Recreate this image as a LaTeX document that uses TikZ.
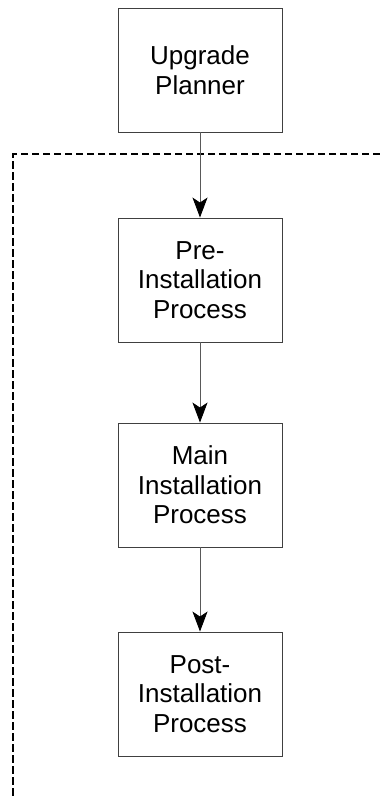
\documentclass[tikz,border=0pt]{standalone}
\usepackage{fontspec}
\setmainfont{Liberation Sans}
\usetikzlibrary{arrows.meta}
\begin{document}
\begin{tikzpicture}[x=1pt,y=-1pt,
    stage/.style={draw=black!75,line width=0.9pt,minimum width=164pt,minimum height=124pt,
      align=center,inner sep=0pt,font=\fontsize{26}{29.5}\selectfont},
    flow/.style={draw=black!65,line width=0.9pt,-{Stealth[length=20pt,width=15pt,inset=5pt,color=black]}},
    zone/.style={line width=2pt,dash pattern=on 7.5pt off 3.5pt}]
      \useasboundingbox (0,0) rectangle (380,803);
      \draw
        (200,70) node[stage] (planner){Upgrade\\Planner}
        (200,280) node[stage] (pre){Pre-\\Installation\\Process}
        (200,485) node[stage] (main){Main\\Installation\\Process}
        (200,694) node[stage] (post){Post-\\Installation\\Process};
      \coordinate (zr) at (380,154);
      \coordinate (zc) at (13,154);
      \coordinate (zb) at (13,798);
      \draw[zone] (zr) -- (zc) -- (zb);
      \begin{scope}[flow]
        \draw (planner) to (pre);
        \draw (pre) to (main);
        \draw (main) to (post);
      \end{scope}
    \end{tikzpicture}
\end{document}
